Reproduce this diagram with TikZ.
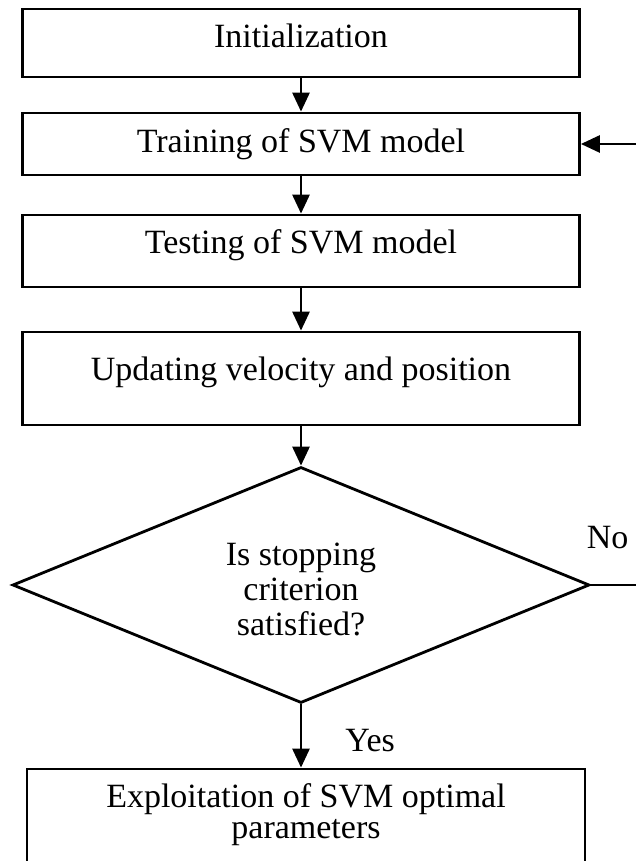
\documentclass[tikz,border=0pt]{standalone}
\usepackage{fontspec}
\setmainfont{Liberation Serif}
\usetikzlibrary{shapes.geometric,arrows.meta}

\begin{document}
\begin{tikzpicture}[x=1pt,y=1pt,line width=2.8pt,
    font=\fontsize{34}{35}\selectfont,
    box/.style={draw,rectangle,inner sep=0pt,minimum width=557pt,text height=24pt},
    flow/.style={-{Triangle[length=19pt,width=17pt]}}]
  \clip (0,0) rectangle (636,861);
  \node[box,minimum height=68pt,text depth=14pt] (init) at (301,818) {Initialization};
  \node[box,minimum height=62pt,text depth=7pt] (train) at (301,717) {Training of SVM model};
  \node[box,minimum height=72pt,text depth=19pt] (test) at (301,610) {Testing of SVM model};
  \node[box,minimum height=93pt,text depth=20pt] (update) at (301,482.5) {Updating velocity and position};
  \node[draw,diamond,aspect=2.45,inner sep=0pt,minimum width=577pt,minimum height=236pt,
    align=center,text height=110pt,text depth=8pt] (cond) at (301,276) {Is stopping\\criterion\\satisfied?};
  \node[box,minimum width=558pt,minimum height=131pt,align=center,
    font=\fontsize{34}{32}\selectfont,text depth=15pt] (final) at (306,26.5)
    {Exploitation of SVM optimal\\parameters};
  \path (cond.east) ++(60,0) coordinate (loop);
  \draw[flow] (init) -- (train);
  \draw[flow] (train) -- (test);
  \draw[flow] (test) -- (update);
  \draw[flow] (update) -- (cond);
  \draw[flow] (cond.south) -- (cond.south |- final.north)
    node[midway,right=43pt,inner sep=0pt,yshift=-5pt]{Yes};
  \draw (cond.east) -- (loop) node[pos=0.28,above=35pt,inner sep=0pt]{No};
  \draw[flow] (loop) |- (train.east);
\end{tikzpicture}
\end{document}
